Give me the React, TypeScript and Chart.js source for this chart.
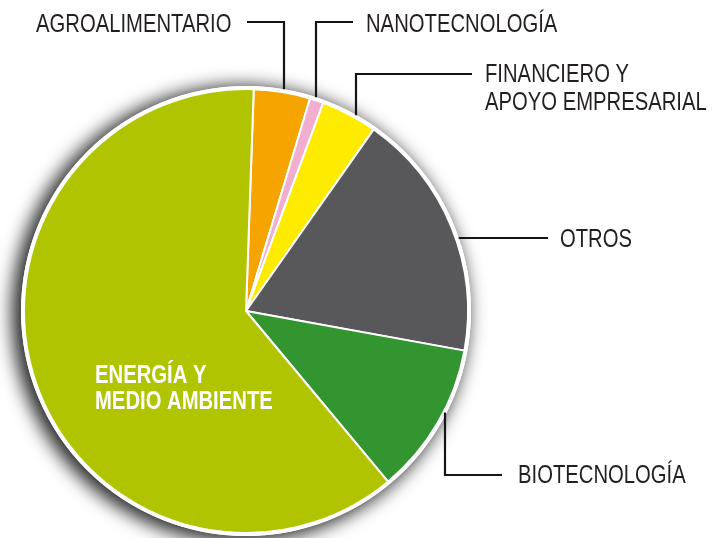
import React, { useEffect, useRef } from "react";
import { Chart, registerables } from "chart.js";

Chart.register(...registerables);

const categories = [
  "AGROALIMENTARIO",
  "NANOTECNOLOGÍA",
  "FINANCIERO Y APOYO EMPRESARIAL",
  "OTROS",
  "BIOTECNOLOGÍA",
  "ENERGÍA Y MEDIO AMBIENTE",
];
const values = [4.1, 1.0, 4.1, 18.1, 11.1, 61.6];
const colors = ["#f5a400", "#f1aecf", "#ffeb00", "#58585a", "#32952f", "#b1c400"];

const FONT = '"Liberation Sans", Arial, sans-serif';
const SQUEEZE = 0.81;

const decorPlugin = {
  id: "decor",
  beforeDatasetsDraw(chart: any) {
    const arc = chart.getDatasetMeta(0).data[0];
    if (!arc) return;
    const { x, y, outerRadius: R } = arc;
    const ctx = chart.ctx;
    ctx.save();
    ctx.filter = "blur(9px)";
    ctx.beginPath();
    ctx.arc(x - 6, y + 3, R + 6, 0, Math.PI * 2);
    ctx.fillStyle = "rgba(30,30,30,0.95)";
    ctx.fill();
    ctx.restore();
    ctx.save();
    ctx.beginPath();
    ctx.arc(x, y, R + 3, 0, Math.PI * 2);
    ctx.fillStyle = "#ffffff";
    ctx.fill();
    ctx.restore();
  },
  afterDatasetsDraw(chart: any) {
    const arc = chart.getDatasetMeta(0).data[0];
    if (!arc) return;
    const { x: cx, y: cy, outerRadius: R } = arc;
    const ctx = chart.ctx;
    ctx.save();
    ctx.beginPath();
    ctx.arc(cx, cy, R + 1.5, 0, Math.PI * 2);
    ctx.strokeStyle = "#ffffff";
    ctx.lineWidth = 3;
    ctx.stroke();

    const edgeTop = (px: number) => cy - Math.sqrt(Math.max(R * R - (px - cx) * (px - cx), 0));
    const edgeBottom = (px: number) => cy + Math.sqrt(Math.max(R * R - (px - cx) * (px - cx), 0));
    const edgeRight = (py: number) => cx + Math.sqrt(Math.max(R * R - (py - cy) * (py - cy), 0));

    ctx.strokeStyle = "#151515";
    ctx.lineWidth = 2.2;
    ctx.lineJoin = "miter";
    ctx.lineCap = "butt";
    const poly = (pts: number[][]) => {
      ctx.beginPath();
      ctx.moveTo(pts[0][0], pts[0][1]);
      for (let i = 1; i < pts.length; i++) ctx.lineTo(pts[i][0], pts[i][1]);
      ctx.stroke();
    };
    poly([[247, 22], [284, 22], [284, edgeTop(284) - 3]]);
    poly([[316, edgeTop(316) - 3], [316, 22], [353, 22]]);
    poly([[356, edgeTop(356) - 3], [356, 74], [472, 74]]);
    poly([[edgeRight(238) + 3, 238], [548, 238]]);
    poly([[445, edgeBottom(445) + 3], [445, 475], [502, 475]]);

    const text = (s: string, x: number, y: number) => {
      ctx.save();
      ctx.translate(x, y);
      ctx.scale(SQUEEZE, 1);
      ctx.fillText(s, 0, 0);
      ctx.restore();
    };

    ctx.fillStyle = "#231f20";
    ctx.font = `25px ${FONT}`;
    ctx.textBaseline = "alphabetic";
    ctx.textAlign = "left";
    text(categories[0], 36, 32);
    text(categories[1], 366, 32);
    text("FINANCIERO Y", 485, 82);
    text("APOYO EMPRESARIAL", 485, 110);
    text(categories[3], 560, 247);
    text(categories[4], 518, 483);

    ctx.fillStyle = "#ffffff";
    ctx.font = `bold 25px ${FONT}`;
    text("ENERGÍA Y", 95, 383);
    text("MEDIO AMBIENTE", 95, 409);
    ctx.restore();
  },
};

export default function App() {
  const ref = useRef<HTMLCanvasElement>(null);
  useEffect(() => {
    if (!ref.current) return;
    const D = 446;
    const cx = 246;
    const cy = 311;
    const chart = new Chart(ref.current, {
      type: "pie",
      data: {
        labels: categories,
        datasets: [
          {
            data: values,
            backgroundColor: colors,
            borderColor: "#ffffff",
            borderWidth: 2,
          },
        ],
      },
      options: {
        animation: false,
        responsive: false,
        rotation: 2,
        layout: {
          padding: {
            left: cx - D / 2,
            top: cy - D / 2,
            right: 718 - (cx + D / 2),
            bottom: 538 - (cy + D / 2),
          },
        },
        plugins: {
          legend: { display: false },
          tooltip: { enabled: false },
        },
      },
      plugins: [decorPlugin],
    });
    return () => chart.destroy();
  }, []);
  return (
    <div style={{ position: "absolute", left: 0, top: 0, width: 718, height: 538, background: "#ffffff" }}>
      <canvas ref={ref} width={718} height={538} style={{ width: 718, height: 538, display: "block" }} />
    </div>
  );
}
